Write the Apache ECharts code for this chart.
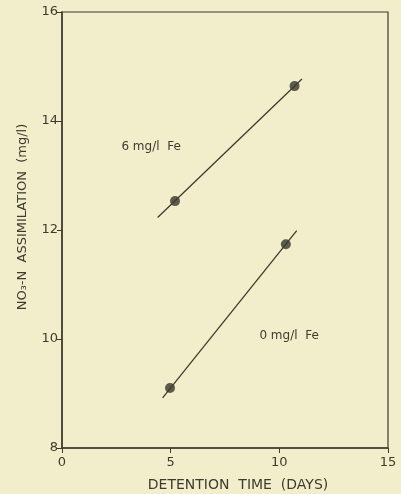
<!DOCTYPE html>
<html>
<head>
<meta charset="utf-8">
<script src="https://cdn.jsdelivr.net/npm/echarts@6/dist/echarts.min.js"></script>
<style>
  html, body { margin: 0; padding: 0; background: #f2eecc; }
  #myChart { width: 401px; height: 494px; }
</style>
</head>
<body>
<div id="myChart"></div>
<script>
// measured points (detention time in days, NO3-N assimilation mg/l)
const fe6Points = [[5.2, 12.53], [10.7, 14.64]]
const fe0Points = [[4.97, 9.1], [10.3, 11.74]]
// fitted lines, as drawn
const fe6Line = [[4.4, 12.23], [11.04, 14.77]]
const fe0Line = [[4.63, 8.92], [10.8, 11.99]]
// curve labels
const labels = [
  { name: '6 mg/l  Fe', value: [4.1, 13.52] },
  { name: '0 mg/l  Fe', value: [10.45, 10.06] }
]
const xTicks = [0, 5, 10, 15]
const yTicks = [8, 10, 12, 14, 16]

const ink = '#3d3b2e'
const font = 'DejaVu Sans'

let option = {
  backgroundColor: '#f2eecc',
  animation: false,
  grid: {
    left: 62,
    right: 13,
    top: 12,
    bottom: 46,
    containLabel: false,
    outerBoundsMode: 'none',
    show: true,
    borderColor: ink,
    borderWidth: 1.2
  },
  xAxis: {
    type: 'value',
    min: xTicks[0],
    max: xTicks[xTicks.length - 1],
    interval: 5,
    name: 'DETENTION  TIME  (DAYS)',
    nameLocation: 'middle',
    nameGap: 30,
    nameTextStyle: { color: ink, fontFamily: font, fontSize: 14, padding: [0, 0, 0, 26] },
    axisLine: { lineStyle: { color: ink, width: 1.5 } },
    axisTick: { length: 5, lineStyle: { color: ink } },
    axisLabel: { color: ink, fontFamily: font, fontSize: 13, margin: 8 },
    splitLine: { show: false }
  },
  yAxis: {
    type: 'value',
    min: yTicks[0],
    max: yTicks[yTicks.length - 1],
    interval: 2,
    name: 'NO\u2083-N  ASSIMILATION  (mg/l)',
    nameLocation: 'middle',
    nameGap: 33,
    nameTextStyle: { color: ink, fontFamily: font, fontSize: 13, padding: [0, 0, 0, 26] },
    axisLine: { lineStyle: { color: ink, width: 1.5 } },
    axisTick: { length: 5, lineStyle: { color: ink } },
    axisLabel: { color: ink, fontFamily: font, fontSize: 13, margin: 4 },
    splitLine: { show: false }
  },
  series: [
    {
      name: 'fit 6', type: 'line', data: fe6Line, symbol: 'none',
      lineStyle: { color: ink, width: 1.3 }
    },
    {
      name: 'fit 0', type: 'line', data: fe0Line, symbol: 'none',
      lineStyle: { color: ink, width: 1.3 }
    },
    {
      name: '6 mg/l Fe', type: 'scatter', data: fe6Points, symbolSize: 10,
      itemStyle: { color: '#35342a' }
    },
    {
      name: '0 mg/l Fe', type: 'scatter', data: fe0Points, symbolSize: 10,
      itemStyle: { color: '#35342a' }
    },
    {
      // text labels next to the lines
      type: 'scatter', data: labels, symbolSize: 0, silent: true,
      label: {
        show: true, position: 'inside', formatter: '{b}',
        color: ink, opacity: 1, fontFamily: font, fontSize: 12
      }
    }
  ]
}

const myChart = echarts.init(document.getElementById('myChart'))
myChart.setOption(option)
</script>
</body>
</html>
